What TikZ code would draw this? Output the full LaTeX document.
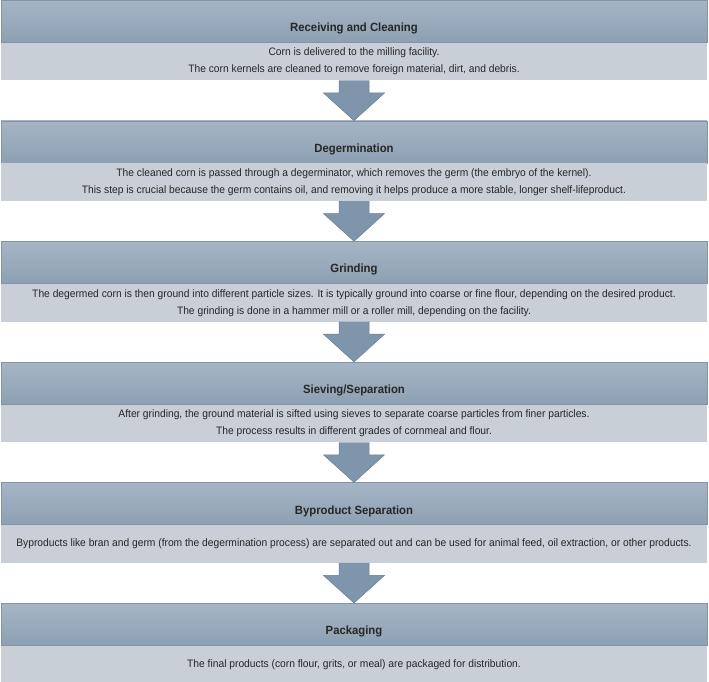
\documentclass[tikz,border=0pt]{standalone}
\usepackage{fontspec}
\setmainfont{Liberation Sans}[FakeStretch=0.95]
\usetikzlibrary{calc}
\definecolor{hdtop}{HTML}{A5B5C5}
\definecolor{hdbot}{HTML}{8DA0B3}
\definecolor{bodyc}{HTML}{C8CFD7}
\definecolor{arrf}{HTML}{7E95AB}
\definecolor{arrd}{HTML}{687E93}
\definecolor{edgec}{HTML}{8494A4}
\begin{document}
\begin{tikzpicture}[x=1pt,y=1pt]
\useasboundingbox (0,0) rectangle (709,-682);
\tikzset{
  headbox/.style={minimum width=706pt, minimum height=42pt, inner sep=0pt, anchor=north,
    top color=hdtop, bottom color=hdbot, draw=edgec, line width=0.6pt},
  titletext/.style={inner sep=0pt, font=\bfseries\fontsize{11.9}{13}\selectfont, text=black!85},
  bodybox/.style={minimum width=706pt, minimum height=37.5pt, inner sep=0pt, anchor=north,
    fill=bodyc, align=center, font=\fontsize{10.8}{17}\selectfont, text=black!85},
  bigarrow/.style={fill=arrf, draw=arrd, line width=0.5pt, line join=miter}
}
% boxes
\node[headbox] (h1) at (354,0) {};
\node[bodybox] (b1) at (h1.south) {Corn is delivered to the milling facility.\\The corn kernels are cleaned to remove foreign material, dirt, and debris.};
\node[titletext] (t1) at ($(h1.south)+(0,14)$) {Receiving and Cleaning};

\node[headbox] (h2) at (354,-120.6) {};
\node[bodybox] (b2) at (h2.south) {The cleaned corn is passed through a degerminator, which removes the germ (the embryo of the kernel).\\This step is crucial because the germ contains oil, and removing it helps produce a more stable, longer shelf-lifeproduct.};
\node[titletext] (t2) at ($(h2.south)+(0,14)$) {Degermination};

\node[headbox] (h3) at (354,-241.2) {};
\node[bodybox] (b3) at (h3.south) {The degermed corn is then ground into different particle sizes. It is typically ground into coarse or fine flour, depending on the desired product.\\The grinding is done in a hammer mill or a roller mill, depending on the facility.};
\node[titletext] (t3) at ($(h3.south)+(0,14)$) {Grinding};

\node[headbox] (h4) at (354,-361.8) {};
\node[bodybox] (b4) at (h4.south) {After grinding, the ground material is sifted using sieves to separate coarse particles from finer particles.\\The process results in different grades of cornmeal and flour.};
\node[titletext] (t4) at ($(h4.south)+(0,14)$) {Sieving/Separation};

\node[headbox] (h5) at (354,-482.4) {};
\node[bodybox] (b5) at (h5.south) {Byproducts like bran and germ (from the degermination process) are separated out and can be used for animal feed, oil extraction, or other products.};
\node[titletext] (t5) at ($(h5.south)+(0,14)$) {Byproduct Separation};

\node[headbox] (h6) at (354,-603) {};
\node[bodybox] (b6) at (h6.south) {The final products (corn flour, grits, or meal) are packaged for distribution.};
\node[titletext] (t6) at ($(h6.south)+(0,14)$) {Packaging};

% arrows
\foreach \a/\b in {b1/h2,b2/h3,b3/h4,b4/h5,b5/h6}{
  \path[bigarrow] ($(\a.south)+(-15,0)$) -- ($(\a.south)+(-15,-12.5)$) -- ($(\a.south)+(-30.5,-12.5)$)
    -- (\b.north) -- ($(\a.south)+(30.5,-12.5)$) -- ($(\a.south)+(15,-12.5)$) -- ($(\a.south)+(15,0)$);
}
\end{tikzpicture}
\end{document}
